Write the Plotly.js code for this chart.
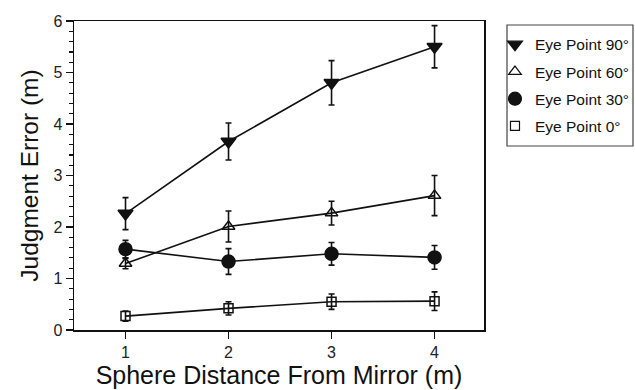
<!DOCTYPE html>
<html><head><meta charset="utf-8">
<script src="https://cdn.plot.ly/plotly-3.0.1.min.js"></script>
<style>html,body{margin:0;padding:0;background:#fff;}#c{width:635px;height:390px;}</style>
</head><body><div id="c"></div>
<script>
var distances = [1, 2, 3, 4];
var names = ["Eye Point 90°", "Eye Point 60°", "Eye Point 30°", "Eye Point 0°"];
var err90 = [2.26, 3.66, 4.80, 5.50];
var sd90 = [0.31, 0.36, 0.43, 0.41];
var err60 = [1.29, 2.01, 2.27, 2.61];
var sd60 = [0.10, 0.30, 0.23, 0.39];
var err30 = [1.57, 1.33, 1.48, 1.41];
var sd30 = [0.17, 0.25, 0.22, 0.23];
var err0 = [0.27, 0.42, 0.55, 0.56];
var sd0 = [0.10, 0.13, 0.15, 0.18];

var ink = '#111';
var series = [
  {y: err90, e: sd90, sym: 'triangle-down', size: 13},
  {y: err60, e: sd60, sym: 'triangle-up-open', size: 11},
  {y: err30, e: sd30, sym: 'circle', size: 13},
  {y: err0, e: sd0, sym: 'square-open', size: 9}
];
var traces = [];
series.forEach(function(s, i) {
  traces.push({
    x: distances, y: s.y, type: 'scatter', mode: 'lines+markers',
    showlegend: false,
    line: {color: ink, width: 1.6},
    marker: {symbol: s.sym, size: s.size, color: ink, line: {color: ink, width: 1.5}},
    error_y: {type: 'data', array: s.e, visible: true, color: ink, thickness: 1.6, width: 3}
  });
});
series.forEach(function(s, i) {
  traces.push({
    x: [null], y: [null], type: 'scatter', mode: 'markers', name: names[i],
    legendgroup: 'g' + i,
    marker: {symbol: s.sym, size: s.size, color: ink, line: {color: ink, width: 1.2}}
  });
});

var layout = {
  width: 635, height: 390,
  margin: {l: 74, r: 151, t: 21, b: 60},
  paper_bgcolor: '#fff', plot_bgcolor: '#fff',
  font: {family: 'Liberation Sans, Arial, sans-serif', color: ink},
  showlegend: true,
  legend: {
    xref: 'container', yref: 'container',
    x: 0.7795, y: 0.9287, xanchor: 'left', yanchor: 'top',
    borderwidth: 0, bgcolor: 'rgba(0,0,0,0)',
    font: {size: 15.5, color: ink}, tracegroupgap: 4, itemwidth: 30
  },
  shapes: [{
    type: 'rect', xref: 'paper', yref: 'paper',
    x0: 1.0561, x1: 1.3634, y0: 0.5955, y1: 0.987,
    line: {color: '#444', width: 1.2}, fillcolor: 'rgba(0,0,0,0)', layer: 'below'
  }],
  xaxis: {
    range: [0.5, 4.48], tickvals: distances, ticktext: ['1', '2', '3', '4'],
    ticks: 'outside', ticklen: 7, tickwidth: 1.5, tickcolor: ink,
    showline: true, linecolor: ink, linewidth: 1.5, mirror: true,
    showgrid: false, zeroline: false,
    tickfont: {size: 16, color: '#222'},
    title: {text: 'Sphere Distance From Mirror (m)', font: {size: 25}, standoff: 7}
  },
  yaxis: {
    range: [0, 6], dtick: 1, ticks: 'outside', ticklen: 7, tickwidth: 1.5, tickcolor: ink,
    minor: {dtick: 0.2, ticks: 'outside', ticklen: 4, tickwidth: 1.2, tickcolor: ink, showgrid: false},
    showline: true, linecolor: ink, linewidth: 1.5, mirror: true,
    showgrid: false, zeroline: false,
    tickfont: {size: 16, color: '#222'},
    title: {text: 'Judgment Error (m)', font: {size: 24.5}, standoff: 8}
  }
};
Plotly.newPlot('c', traces, layout, {displayModeBar: false, staticPlot: true});
</script>
</body></html>
